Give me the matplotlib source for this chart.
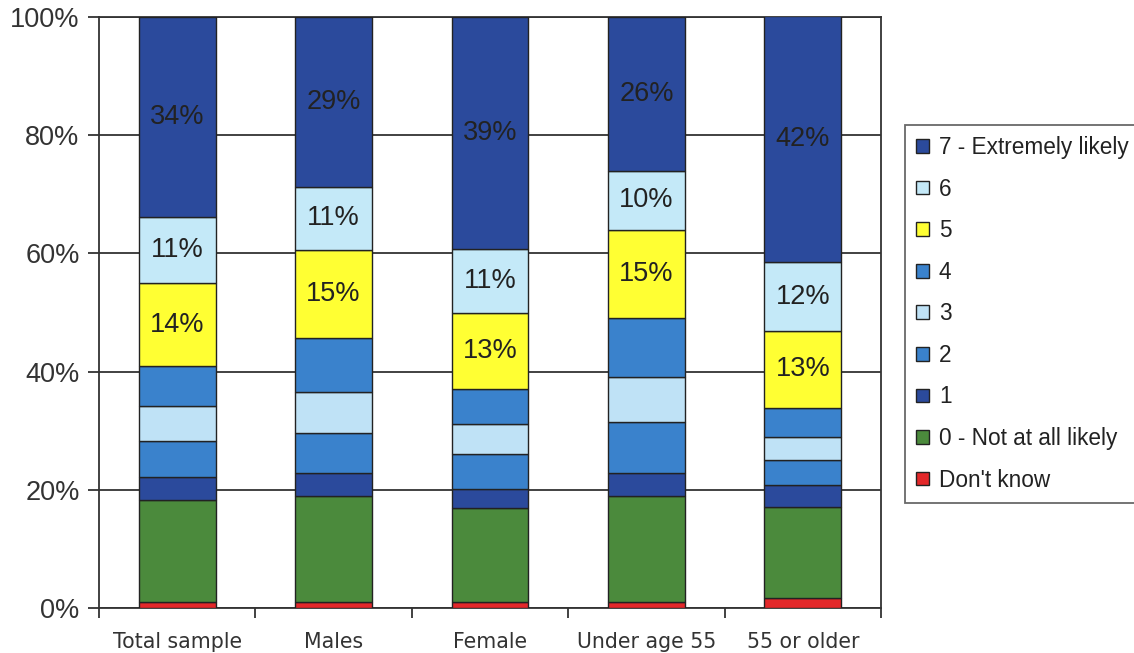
import numpy as np
from matplotlib import pyplot as plt

# groups on the x axis
groups = ["Total sample", "Males", "Female", "Under age 55", "55 or older"]

# percent of respondents (bottom to top of each bar)
dont_know = [1.0, 1.0, 1.0, 1.0, 1.6]
level0 = [17.3, 18.0, 15.9, 18.0, 15.4]
level1 = [3.9, 3.9, 3.2, 3.9, 3.8]
level2 = [6.1, 6.7, 6.0, 8.5, 4.2]
level3 = [5.8, 7.0, 5.1, 7.7, 4.0]
level4 = [6.8, 9.0, 5.8, 9.9, 4.8]
level5 = [14.1, 15.0, 12.9, 14.9, 13.1]
level6 = [11.2, 10.6, 10.8, 10.1, 11.6]
level7 = [33.8, 28.8, 39.3, 26.0, 41.6]

series = [dont_know, level0, level1, level2, level3, level4, level5, level6, level7]
names = ["Don't know", "0 - Not at all likely", "1", "2", "3", "4", "5", "6",
         "7 - Extremely likely"]
colors = ["#e3282a", "#4b8a3c", "#2b4a9c", "#3a82cc", "#bfe2f6", "#3a82cc",
          "#ffff33", "#c4e9f8", "#2b4a9c"]
labelled = {"5", "6", "7 - Extremely likely"}   # only these get % labels

fig = plt.figure(figsize=(11.34, 6.53), dpi=100)
ax = fig.add_axes([0.0873, 0.069, 0.6896, 0.905])

x = np.arange(len(groups))
bottom = np.zeros(len(groups))
handles = []
for vals, name, col in zip(series, names, colors):
    vals = np.array(vals) / 100.0
    bars = ax.bar(x, vals, 0.49, bottom=bottom, color=col, edgecolor="#222222",
                  linewidth=1.0, zorder=3, label=name)
    handles.append(bars)
    if name in labelled:
        for xi, b, v in zip(x, bottom, vals):
            ax.text(xi, b + v / 2, f"{v * 100:.0f}%", ha="center", va="center",
                    fontsize=19.5, color="#222222", family="Liberation Sans", zorder=4)
    bottom += vals

# axes look
ax.set_xlim(-0.5, len(groups) - 0.5)
ax.set_ylim(0, 1)
ax.set_yticks(np.linspace(0, 1, 6))
ax.set_yticklabels([f"{int(t * 100)}%" for t in np.linspace(0, 1, 6)],
                   fontsize=19.5, family="Liberation Sans", color="#333333")
ax.yaxis.grid(True, color="#333333", linewidth=1.3, zorder=0)
ax.tick_params(axis="y", direction="out", length=8, width=1.3, color="#333333", pad=6)

# ticks between groups, labels at the centres
ax.set_xticks(np.arange(-0.5, len(groups), 1.0))
ax.set_xticklabels([])
ax.tick_params(axis="x", which="major", direction="out", length=7, width=1.3,
               color="#333333")
ax.set_xticks(x, minor=True)
ax.set_xticklabels(groups, minor=True, fontsize=14.8, color="#333333",
                   family="DejaVu Sans")
ax.tick_params(axis="x", which="minor", length=0, pad=17)

for s in ax.spines.values():
    s.set_color("#333333")
    s.set_linewidth(1.3)

# legend, top entry first
leg = fig.legend(handles[::-1], names[::-1], loc="upper left",
                 bbox_to_anchor=(0.798, 0.809), frameon=True, fancybox=False,
                 prop={"family": "Liberation Sans", "size": 16.3},
                 handlelength=0.55, handleheight=0.55, handletextpad=0.45,
                 labelspacing=0.82, borderpad=0.5, borderaxespad=0)
leg.get_frame().set_edgecolor("#444444")
leg.get_frame().set_linewidth(1.3)
for t in leg.get_texts():
    t.set_color("#222222")

fig.savefig("out.png", dpi=100)
